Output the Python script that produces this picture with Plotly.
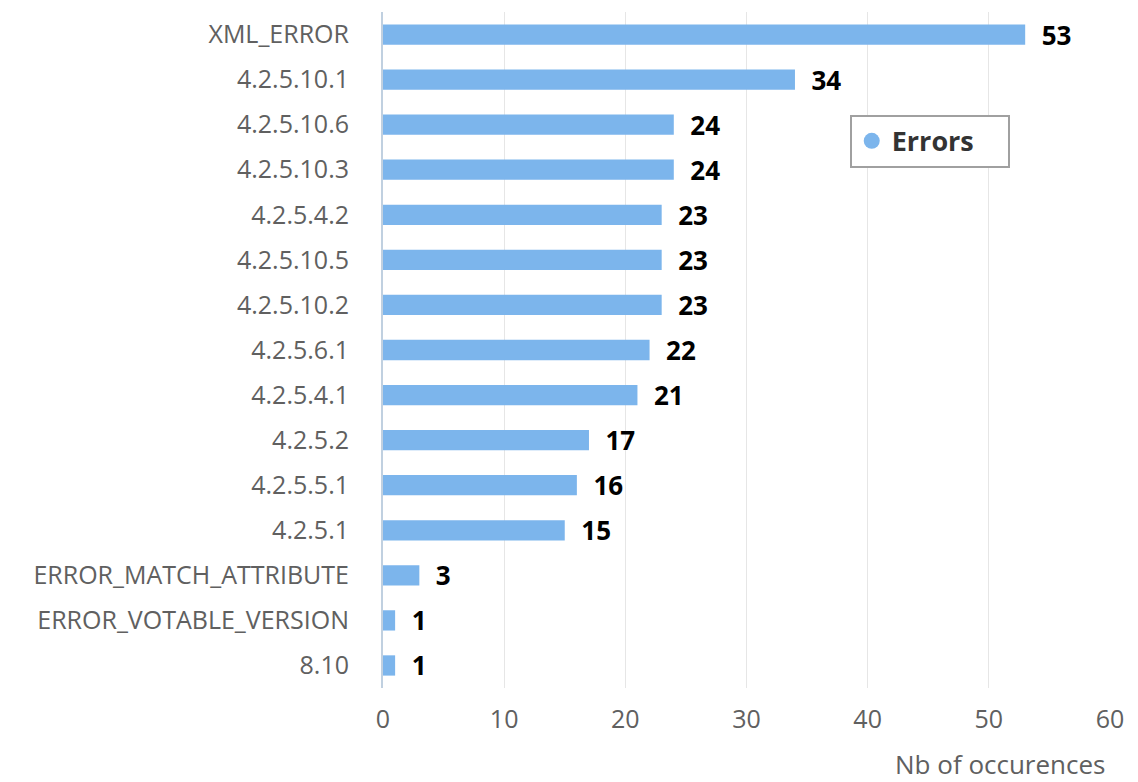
import plotly.graph_objects as go

categories = ["XML_ERROR", "4.2.5.10.1", "4.2.5.10.6", "4.2.5.10.3", "4.2.5.4.2",
              "4.2.5.10.5", "4.2.5.10.2", "4.2.5.6.1", "4.2.5.4.1", "4.2.5.2",
              "4.2.5.5.1", "4.2.5.1", "ERROR_MATCH_ATTRIBUTE", "ERROR_VOTABLE_VERSION", "8.10"]
errors = [53, 34, 24, 24, 23, 23, 23, 22, 21, 17, 16, 15, 3, 1, 1]
x_ticks = [0, 10, 20, 30, 40, 50, 60]

FONT = "Open Sans"
BAR = "#7cb5ec"
FS = 25

# page body has an 8px default margin; figure is sized to fit the window
fig = go.Figure()
fig.add_trace(go.Bar(
    x=errors, y=categories, orientation="h",
    marker=dict(color=BAR, line=dict(width=0)),
    width=0.45,
    text=[f"\u00a0\u00a0<b>{v}</b>" for v in errors],
    textposition="outside",
    constraintext="none",
    textfont=dict(family=FONT, size=26, color="#000000"),
    cliponaxis=False,
    showlegend=False,
    name="Errors",
))
# legend entry with circle symbol
fig.add_trace(go.Scatter(
    x=[None], y=[None], mode="markers", name="<b>Errors</b>\u00a0\u00a0\u00a0\u00a0",
    marker=dict(symbol="circle", size=22, color=BAR),
    showlegend=True,
))

fig.update_layout(
    width=1130, height=774,
    margin=dict(l=375, r=28, t=4, b=94),
    paper_bgcolor="white", plot_bgcolor="white",
    font=dict(family=FONT, size=FS, color="#606060"),
    legend=dict(
        x=0.642, y=0.848, xanchor="left", yanchor="top",
        bordercolor="#a0a0a0", borderwidth=2, bgcolor="white",
        font=dict(family=FONT, size=27, color="#333333"),
        itemsizing="trace",
    ),
    annotations=[dict(
        text="Nb of occurences", xref="paper", yref="paper",
        x=0.9975, y=-0.113, xanchor="right", yanchor="middle", showarrow=False,
        font=dict(family=FONT, size=26, color="#606060"),
    )],
)
fig.update_xaxes(
    range=[0, 60], tickvals=x_ticks, showgrid=True, gridcolor="#e6e6e6", gridwidth=1,
    zeroline=False, showline=False, ticks="", automargin=False, ticklabelstandoff=14,
    tickfont=dict(size=FS, color="#606060"),
)
fig.update_yaxes(
    categoryorder="array", categoryarray=categories[::-1], autorange=True,
    showgrid=False, showline=True, linecolor="#c0d0e0", linewidth=2,
    ticks="", ticklabelstandoff=27, automargin=False,
    tickfont=dict(size=FS, color="#606060"),
)

fig.write_html("out.html")
